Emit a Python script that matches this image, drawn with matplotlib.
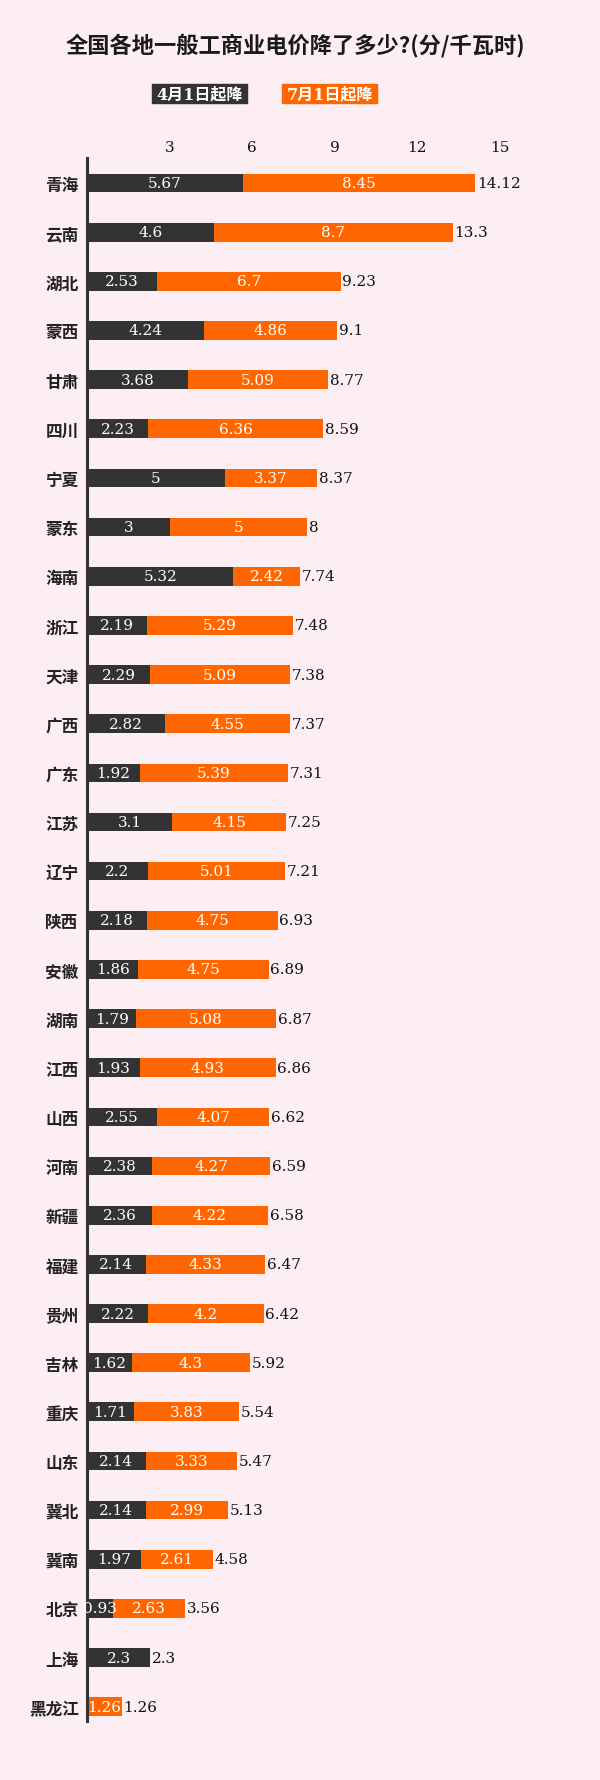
import matplotlib
matplotlib.use('Agg')
import matplotlib.pyplot as plt
from matplotlib.patches import Rectangle

provinces = ['青海', '云南', '湖北', '蒙西', '甘肃', '四川', '宁夏', '蒙东', '海南', '浙江',
             '天津', '广西', '广东', '江苏', '辽宁', '陕西', '安徽', '湖南', '江西', '山西',
             '河南', '新疆', '福建', '贵州', '吉林', '重庆', '山东', '冀北', '冀南', '北京',
             '上海', '黑龙江']
apr_cut = [5.67, 4.6, 2.53, 4.24, 3.68, 2.23, 5, 3, 5.32, 2.19,
           2.29, 2.82, 1.92, 3.1, 2.2, 2.18, 1.86, 1.79, 1.93, 2.55,
           2.38, 2.36, 2.14, 2.22, 1.62, 1.71, 2.14, 2.14, 1.97, 0.93,
           2.3, 0]
jul_cut = [8.45, 8.7, 6.7, 4.86, 5.09, 6.36, 3.37, 5, 2.42, 5.29,
           5.09, 4.55, 5.39, 4.15, 5.01, 4.75, 4.75, 5.08, 4.93, 4.07,
           4.27, 4.22, 4.33, 4.2, 4.3, 3.83, 3.33, 2.99, 2.61, 2.63,
           0, 1.26]
totals = [14.12, 13.3, 9.23, 9.1, 8.77, 8.59, 8.37, 8, 7.74, 7.48,
          7.38, 7.37, 7.31, 7.25, 7.21, 6.93, 6.89, 6.87, 6.86, 6.62,
          6.59, 6.58, 6.47, 6.42, 5.92, 5.54, 5.47, 5.13, 4.58, 3.56,
          2.3, 1.26]
xticks = [3, 6, 9, 12, 15]
legend_labels = ['4月1日起降', '7月1日起降']

bg = '#fdeef4'
dark = '#333333'
orange = '#ff6600'
cjk = ['Noto Sans CJK SC', 'DejaVu Sans']
num = ['DejaVu Serif', 'Noto Sans CJK SC']

W, H = 600, 1781
fig = plt.figure(figsize=(W / 100, H / 100), dpi=100, facecolor=bg)

# axes: zero at x=87px, rows from y=159 to 1722px
ax = fig.add_axes([87 / W, 1 - 1722 / H, 513 / W, (1722 - 159) / H])
ax.set_facecolor(bg)

for s in ['top', 'right', 'bottom']:
    ax.spines[s].set_visible(False)
ax.spines['left'].set_color('#333333')
ax.spines['left'].set_linewidth(2.2)

ypos = list(range(len(provinces)))
ax.barh(ypos, apr_cut, height=0.38, color=dark)
ax.barh(ypos, jul_cut, left=apr_cut, height=0.38, color=orange)

for i in ypos:
    a, j, t = apr_cut[i], jul_cut[i], totals[i]
    if a > 0:
        ax.text(a / 2, i, '{:g}'.format(a), ha='center', va='center',
                color='white', fontsize=11, family=num)
    if j > 0:
        ax.text(a + j / 2, i, '{:g}'.format(j), ha='center', va='center',
                color='white', fontsize=11, family=num)
    ax.text(a + j + 0.06, i, '{:g}'.format(t), ha='left', va='center',
            color='#111111', fontsize=11, family=num)

ax.set_xlim(0, 513 / 27.5)
# row 0 at y=184px, 49.16px per row
ax.set_ylim(31.29, -0.509)

ax.xaxis.tick_top()
ax.set_xticks(xticks)
ax.set_xticklabels([str(v) for v in xticks], family=num, fontsize=11, color='#111111')
ax.set_yticks(ypos)
ax.set_yticklabels(provinces, family=cjk, fontsize=12, fontweight='bold', color='#222222')
ax.tick_params(axis='both', length=0)
ax.tick_params(axis='x', pad=3)
ax.tick_params(axis='y', pad=6)

# title
fig.text(295 / W, 1 - 45 / H, '全国各地一般工商业电价降了多少?(分/千瓦时)',
         ha='center', va='center', fontsize=16, family=cjk, fontweight='bold',
         color='#1a1a1a')

# legend boxes
for (x0, x1), lab, col in zip([(152, 247), (282, 377)], legend_labels, [dark, orange]):
    fig.patches.append(Rectangle((x0 / W, 1 - 104 / H), (x1 - x0) / W, 19 / H,
                                 transform=fig.transFigure, color=col))
    fig.text((x0 + x1) / 2 / W, 1 - 94.5 / H, lab, ha='center', va='center',
             color='white', fontsize=11.5, family=num, fontweight='bold')

fig.savefig('out.png', dpi=100, facecolor=bg)
